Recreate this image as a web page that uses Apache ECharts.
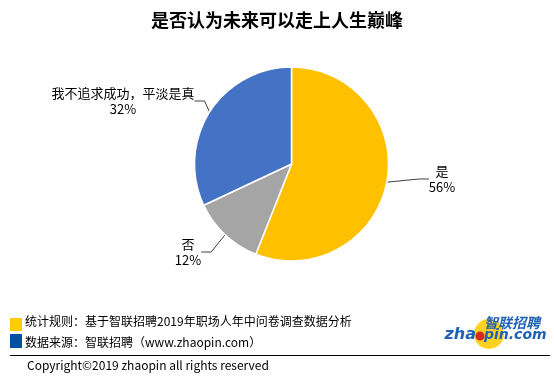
<!DOCTYPE html>
<html><head><meta charset="utf-8">
<script src="https://cdn.jsdelivr.net/npm/echarts@6/dist/echarts.min.js"></script>
<style>html,body{margin:0;padding:0;background:#fff}#c{width:554px;height:383px}</style>
</head><body><div id="c"></div>
<script>
var categories = ['是', '否', '我不追求成功，平淡是真'];
var values = [56, 12, 32];
var colors = ['#FFC000', '#A5A5A5', '#4472C4'];
var titleText = '是否认为未来可以走上人生巅峰';
var noteLines = ['统计规则：基于智联招聘2019年职场人年中问卷调查数据分析', '数据来源：智联招聘（www.zhaopin.com）'];
var copyrightText = 'Copyright©2019 zhaopin all rights reserved';

var FONT = '"Noto Sans CJK SC", "Microsoft YaHei", sans-serif';
var labelPos = [[442, 179], [188, 252], [123, 101]];

var chart = echarts.init(document.getElementById('c'), null, {renderer: 'canvas'});
chart.setOption({
  backgroundColor: '#fff',
  animation: false,
  title: {
    text: titleText, left: 'center', top: 6,
    textStyle: {fontFamily: FONT, fontSize: 18, fontWeight: 'bold', color: '#000'}
  },
  series: [{
    type: 'pie',
    center: [291.5, 164],
    radius: 97,
    startAngle: 90,
    clockwise: true,
    avoidLabelOverlap: false,
    itemStyle: {borderColor: '#fff', borderWidth: 1.5},
    label: {
      show: true, position: 'outside',
      formatter: '{b}\n{d}%',
      fontFamily: FONT, fontSize: 13, color: '#000', lineHeight: 16, align: 'center'
    },
    labelLine: {show: true, length: 10, length2: 10, lineStyle: {color: '#404040', width: 1}},
    labelLayout: function (p) {
      var pos = labelPos[p.dataIndex];
      return {x: pos[0], y: pos[1], align: 'center', verticalAlign: 'middle'};
    },
    data: categories.map(function (c, i) {
      return {name: c, value: values[i], itemStyle: {color: colors[i]}};
    })
  }],
  graphic: [
    {type: 'rect', shape: {x: 10, y: 318, width: 12, height: 13}, style: {fill: '#FFCC00'}},
    {type: 'rect', shape: {x: 10, y: 334, width: 12, height: 14}, style: {fill: '#0051A2'}},
    {type: 'text', style: {x: 25, y: 321, text: noteLines[0], fontFamily: FONT, fontSize: 12, fill: '#000', verticalAlign: 'middle'}},
    {type: 'text', style: {x: 25, y: 342, text: noteLines[1], fontFamily: FONT, fontSize: 12, fill: '#000', verticalAlign: 'middle'}},
    {type: 'line', shape: {x1: 10, y1: 355.5, x2: 550, y2: 355.5}, style: {stroke: '#000', lineWidth: 1}},
    {type: 'text', style: {x: 27, y: 365, text: copyrightText, fontFamily: FONT, fontSize: 12, fill: '#000', verticalAlign: 'middle'}},
    {type: 'circle', shape: {cx: 489, cy: 334, r: 15}, style: {fill: '#FFD21F'}},
    {type: 'text', style: {x: 512, y: 323, text: '智联招聘', fontFamily: FONT, fontSize: 14, fontWeight: 'bold', fontStyle: 'italic', fill: '#1E62B8', align: 'center', verticalAlign: 'middle'}},
    {type: 'text', style: {x: 476, y: 335, text: 'zha', fontFamily: '"DejaVu Sans", sans-serif', fontSize: 16, fontWeight: 'bold', fontStyle: 'italic', fill: '#1E62B8', align: 'right', verticalAlign: 'middle'}},
    {type: 'text', style: {x: 484, y: 335, text: 'pin.com', fontFamily: '"DejaVu Sans", sans-serif', fontSize: 14, fontWeight: 'bold', fontStyle: 'italic', fill: '#1E62B8', align: 'left', verticalAlign: 'middle'}},
    {type: 'circle', shape: {cx: 480, cy: 336, r: 4.5}, style: {fill: '#D8262B'}}
  ]
});
</script></body></html>
